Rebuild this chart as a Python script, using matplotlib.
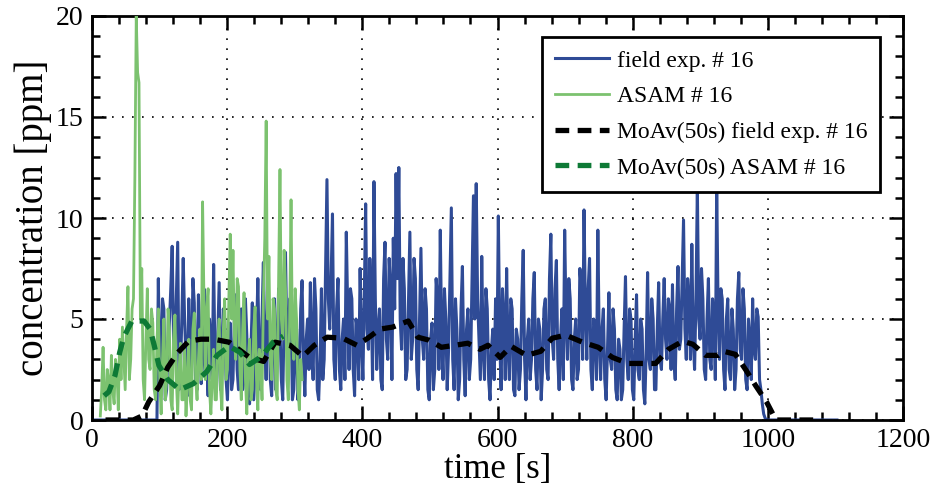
import numpy as np
import matplotlib
matplotlib.use("Agg")
import matplotlib.pyplot as plt
from matplotlib.ticker import MultipleLocator

plt.rcParams['font.family'] = ['Liberation Serif', 'DejaVu Serif']

# ---------------- data ----------------
# field experiment #16, one sample every ~2 s
field_dt = 2.045
field_active = [
    7.0, 2.0, 3.0, 6.0, 5.5, 1.0, 1.5, 3.5, 4.8, 6.5, 8.6, 4.0, 3.2, 6.0, 8.8, 1.5, 2.5, 5.0, 8.0, 5.0,
    3.0, 1.2, 6.0, 3.5, 2.2, 7.0, 5.8, 2.0, 1.5, 6.2, 4.5, 1.8, 2.8, 6.5, 5.5, 3.0, 1.2, 5.0, 4.0, 2.0,
    7.7, 3.0, 1.4, 4.0, 6.8, 1.5, 2.5, 5.5, 5.0, 2.0, 1.0, 3.5, 4.8, 1.5, 2.0, 5.0, 6.2, 2.5, 1.5, 3.0,
    5.5, 1.5, 2.0, 6.0, 4.2, 1.5, 0.8, 3.5, 5.8, 1.0, 2.5, 4.0, 7.0, 3.0, 1.5, 5.0, 7.8, 4.0, 2.0, 5.5,
    5.5, 2.0, 1.2, 4.5, 6.0, 1.5, 3.0, 6.5, 4.5, 2.0, 1.0, 5.0, 8.3, 4.0, 2.5, 6.0, 5.2, 1.0, 1.5, 3.5,
    4.5, 1.0, 2.0, 5.5, 6.9, 3.0, 1.2, 4.0, 5.0, 2.5, 6.8, 3.5, 2.0, 7.0, 5.5, 1.5, 1.0, 3.0, 6.5, 2.0,
    3.0, 7.5, 11.9, 6.0, 4.5, 7.0, 10.2, 3.0, 2.0, 5.5, 7.0, 2.5, 1.5, 4.0, 5.0, 2.0, 9.3, 5.5, 2.5, 6.5,
    6.0, 2.5, 1.2, 5.0, 4.5, 2.0, 7.5, 4.0, 2.0, 6.0, 10.7, 4.5, 3.5, 8.0, 6.0, 2.0, 11.8, 6.0, 2.5, 4.5,
    5.5, 2.0, 1.5, 7.0, 8.8, 4.0, 3.0, 8.0, 6.5, 2.0, 9.0, 5.5, 12.2, 7.0, 12.5, 5.0, 3.5, 8.0, 6.5, 2.0,
    2.5, 6.0, 9.3, 3.0, 4.0, 8.0, 7.0, 2.5, 1.5, 5.0, 8.5, 4.0, 3.0, 6.5, 5.5, 1.5, 1.0, 4.0, 4.8, 1.5,
    2.5, 7.0, 6.0, 2.5, 9.4, 4.0, 2.0, 6.5, 5.0, 1.5, 3.5, 7.0, 10.5, 3.0, 1.5, 6.0, 4.5, 1.0, 2.0, 5.5,
    7.6, 3.0, 1.2, 4.5, 5.5, 2.0, 3.0, 7.0, 11.1, 5.0, 11.7, 6.0, 4.0, 2.0, 8.1, 3.5, 2.0, 6.5, 5.5, 2.0,
    1.0, 3.5, 4.5, 2.0, 6.0, 3.0, 10.1, 4.0, 1.5, 6.5, 5.0, 2.0, 7.5, 3.5, 2.0, 6.0, 5.5, 1.5, 1.2, 4.5,
    4.0, 1.5, 2.5, 6.0, 8.4, 3.0, 1.0, 4.0, 5.0, 2.0, 3.0, 6.0, 7.3, 2.5, 1.5, 5.0, 4.5, 1.0, 2.5, 5.5,
    6.0, 2.5, 2.0, 7.0, 9.2, 4.0, 3.0, 6.5, 7.9, 3.0, 1.5, 4.0, 5.5, 2.0, 9.4, 5.0, 3.0, 7.0, 6.0, 2.0,
    1.5, 4.0, 5.0, 2.0, 2.5, 7.5, 6.5, 3.0, 10.4, 5.5, 3.0, 6.5, 8.0, 2.5, 1.5, 5.0, 4.5, 2.0, 9.4, 4.0,
    2.0, 4.5, 5.5, 2.0, 1.0, 3.5, 6.3, 3.0, 2.5, 5.5, 4.5, 1.5, 1.0, 4.0, 3.5, 1.0, 1.5, 4.5, 7.1, 3.0,
    2.0, 5.5, 5.0, 1.5, 1.0, 4.0, 6.2, 2.5, 2.0, 5.0, 4.5, 1.5, 0.8, 3.5, 7.3, 3.0, 2.5, 6.0, 5.0, 1.5,
    1.5, 4.5, 6.8, 3.0, 2.5, 5.0, 7.0, 4.0, 3.0, 6.0, 5.5, 2.5, 6.7, 3.0, 2.0, 5.5, 7.6, 3.5, 4.0, 7.0,
    9.9, 4.5, 3.0, 7.0, 6.0, 3.0, 8.7, 4.0, 2.5, 6.0, 11.5, 5.0, 4.0, 7.5, 6.0, 2.5, 2.0, 5.0, 7.0, 3.0,
    2.5, 6.0, 5.0, 2.0, 11.7, 5.5, 3.0, 6.5, 6.0, 2.5, 1.5, 5.0, 6.0, 2.5, 2.0, 5.5, 4.5, 1.5, 2.5, 6.0,
    7.3, 3.5, 3.0, 6.5, 5.5, 2.0, 1.5, 5.0, 4.0, 2.0, 6.0, 3.5, 3.0, 5.5, 5.1, 2.0, 1.5, 0.8, 0.3, 0.1,
]
field_lead = 48      # samples at zero before the plume arrives
field_trail = 52     # samples at zero after the source is switched off

# ASAM wind-tunnel #16, one sample every ~2 s starting at ~12 s
asam_t0 = 12.3
asam_v = [
    0.2, 1.5, 3.6, 1.0, 0.5, 2.5, 2.0, 0.5, 3.2, 1.5, 0.8, 3.0, 2.5, 0.5, 4.0, 2.0, 4.6, 3.0, 1.5, 4.5,
    6.6, 2.0, 3.0, 5.5, 6.0, 12.0, 20.0, 17.2, 16.7, 5.0, 7.5, 2.0, 1.0, 4.0, 6.5, 3.0, 2.5, 5.5, 4.8, 1.5,
    1.0, 4.0, 5.5, 2.0, 0.3, 3.0, 5.0, 1.0, 2.0, 5.5, 4.5, 1.0, 0.5, 4.0, 5.2, 2.0, 0.3, 2.5, 3.8, 1.0,
    1.0, 3.5, 0.2, 2.0, 4.0, 1.0, 0.5, 4.5, 5.3, 2.0, 1.0, 3.0, 4.5, 2.0, 10.8, 6.0, 2.0, 5.5, 6.5, 1.5,
    0.3, 2.0, 3.5, 1.0, 1.0, 4.0, 5.0, 1.5, 0.5, 4.5, 6.0, 2.0, 2.5, 6.0, 9.2, 5.0, 8.4, 4.0, 3.0, 7.0,
    6.6, 2.5, 1.0, 4.5, 6.3, 2.0, 0.3, 3.0, 4.0, 1.0, 1.5, 4.5, 5.6, 2.0, 0.5, 3.5, 3.0, 1.0, 6.0, 9.0,
    14.8, 5.0, 8.1, 3.0, 2.0, 6.0, 5.5, 1.5, 1.0, 7.0, 12.4, 5.0, 4.0, 8.4, 6.5, 2.0, 1.0, 5.0, 10.9, 4.0,
    3.0, 6.5, 5.0, 1.5, 0.5, 3.0, 2.0,
]

# 50 s moving averages
mfield_t = [20, 41, 61, 74, 84, 100, 112, 126, 143, 161, 180, 203, 217, 233,
            254, 271, 293, 312, 329, 348, 371, 392, 408, 426, 445, 468, 482,
            499, 517, 537, 556, 574, 586, 604, 620, 643, 664, 681, 701, 726,
            749, 770, 793, 812, 834, 853, 874, 889, 908, 927, 935, 952, 969,
            982, 998, 1012, 1045, 1075]
mfield_v = [0, 0, 0, 0.2, 0.9, 1.7, 2.6, 3.3, 3.9, 4.0, 4.0, 3.85, 3.5, 3.1,
            2.9, 3.85, 3.7, 3.15, 3.7, 4.1, 4.05, 3.7, 4.05, 4.5, 4.6, 4.9, 4.1,
            3.95, 3.6, 3.7, 3.8, 3.5, 3.7, 3.1, 3.65, 3.2, 3.4, 4.05, 4.2, 3.85,
            3.6, 3.1, 2.8, 2.8, 2.8, 3.5, 3.9, 3.75, 3.2, 3.2, 3.4, 3.25, 2.4,
            1.7, 0.9, 0, 0, 0]

masam_t = [18, 25, 34, 41, 47, 59, 77, 86, 92, 99, 112, 130, 150, 170, 185,
           203, 219, 233, 251, 268, 283]
masam_v = [1.2, 1.4, 2.2, 3.35, 4.1, 4.9, 4.9, 4.5, 3.7, 2.7, 2.0, 1.5, 1.8,
           2.4, 3.2, 3.65, 3.35, 2.75, 3.15, 3.85, 4.15]

labels = ['field exp. # 16', 'ASAM # 16',
          'MoAv(50s) field exp. # 16', 'MoAv(50s) ASAM # 16']

field_v = np.concatenate([np.zeros(field_lead), field_active, np.zeros(field_trail)])
field_t = np.arange(len(field_v)) * field_dt
asam_t = asam_t0 + np.arange(len(asam_v)) * field_dt

# ---------------- figure ----------------
fig = plt.figure(figsize=(9.4, 4.96), dpi=100)
ax = fig.add_axes([92 / 940, 1 - 420 / 496, 811 / 940, 404 / 496])

ax.plot(field_t, field_v, color='#2f4b96', lw=2.2, label=labels[0], zorder=2)
ax.plot(asam_t, asam_v, color='#7cc26f', lw=2.0, label=labels[1], zorder=3)
ax.plot(mfield_t, mfield_v, color='black', lw=3.8, dashes=(2.6, 1.6),
        label=labels[2], zorder=4)
ax.plot(masam_t, masam_v, color='#0e7a36', lw=3.8, dashes=(2.6, 1.6),
        label=labels[3], zorder=5)

ax.set_xlim(0, 1200)
ax.set_ylim(0, 20)
ax.xaxis.set_major_locator(MultipleLocator(200))
ax.xaxis.set_minor_locator(MultipleLocator(40))
ax.yaxis.set_major_locator(MultipleLocator(5))
ax.yaxis.set_minor_locator(MultipleLocator(1))

ax.tick_params(which='both', direction='in', top=True, right=True,
               width=1.8, labelsize=20, color='black')
ax.tick_params(which='major', length=10, pad=6)
ax.tick_params(which='minor', length=5.5)
for s in ax.spines.values():
    s.set_linewidth(2.0)

ax.grid(True, which='major', color='black', linestyle=(0, (1, 5)), lw=1.2)

ax.set_xlabel('time [s]', fontsize=25, labelpad=0)
ax.set_ylabel('concentration [ppm]', fontsize=28, labelpad=3)

leg = ax.legend(loc='upper right', bbox_to_anchor=(880 / 940, 1 - 37 / 496),
                bbox_transform=fig.transFigure, fontsize=17,
                frameon=True, fancybox=False, handlelength=2.3,
                borderpad=0.55, labelspacing=0.6, handletextpad=0.3,
                borderaxespad=0)
leg.get_frame().set_edgecolor('black')
leg.get_frame().set_linewidth(2.0)
leg.get_frame().set_alpha(1)
leg.set_zorder(10)

fig.savefig('out.png', dpi=100)
